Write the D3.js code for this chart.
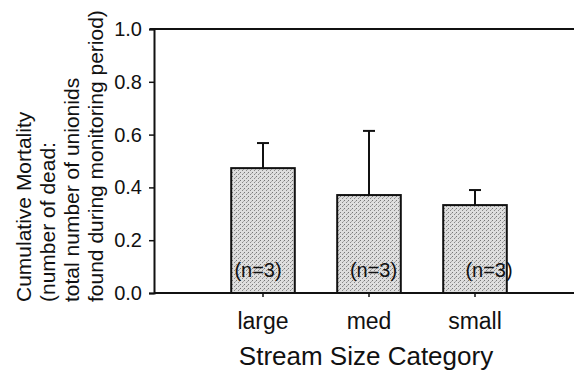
<!DOCTYPE html>
<html>
<head>
<meta charset="utf-8">
<script src="https://cdn.jsdelivr.net/npm/d3@7"></script>
<style>
  body { margin: 0; background: #fff; }
  text { font-family: "Liberation Sans", Arial, sans-serif; fill: #111; }
</style>
</head>
<body>
<script>
// data
var categories = ["large", "med", "small"];
var means = [0.473, 0.371, 0.333];
var upperErr = [0.568, 0.614, 0.39];
var nLabels = ["(n=3)", "(n=3)", "(n=3)"];
var yTicks = [0.0, 0.2, 0.4, 0.6, 0.8, 1.0];

var width = 574, height = 375;
var margin = { left: 154, top: 29, bottom: 82 };

var svg = d3.select("body").append("svg")
    .attr("width", width)
    .attr("height", height);

// stipple fill for bars
var defs = svg.append("defs");
var pat = defs.append("pattern")
    .attr("id", "stip")
    .attr("width", 4).attr("height", 4)
    .attr("patternUnits", "userSpaceOnUse");
pat.append("rect").attr("width", 4).attr("height", 4).attr("fill", "#dedede");
pat.append("rect").attr("x", 0).attr("y", 0).attr("width", 1).attr("height", 1).attr("fill", "#777");
pat.append("rect").attr("x", 2).attr("y", 2).attr("width", 1).attr("height", 1).attr("fill", "#888");
pat.append("rect").attr("x", 3).attr("y", 1).attr("width", 1).attr("height", 1).attr("fill", "#aaa");

var yScale = d3.scaleLinear()
    .domain([0, 1])
    .range([height - margin.bottom, margin.top]);

var xScale = d3.scaleBand()
    .domain(categories)
    .range([210, 528])
    .paddingInner(0.4)
    .paddingOuter(0.2);

// the (n=3) labels sit a little off-centre in the original
var nScale = d3.scalePoint()
    .domain(categories)
    .range([258, 489]);

var y0 = yScale(0);

// top frame line at 1.0
svg.append("line")
    .attr("x1", margin.left - 4).attr("x2", width)
    .attr("y1", yScale(1)).attr("y2", yScale(1))
    .style("stroke", "#111").style("stroke-width", 2);

// bars
svg.selectAll(".bar")
    .data(means)
    .enter().append("rect")
    .attr("class", "bar")
    .attr("x", function(d, i) { return xScale(categories[i]); })
    .attr("y", function(d) { return yScale(d); })
    .attr("width", xScale.bandwidth())
    .attr("height", function(d) { return y0 - yScale(d); })
    .style("fill", "url(#stip)")
    .style("stroke", "#111")
    .style("stroke-width", 2);

// error bars (upper only)
svg.selectAll(".err")
    .data(upperErr)
    .enter().append("line")
    .attr("class", "err")
    .attr("x1", function(d, i) { return xScale(categories[i]) + xScale.bandwidth() / 2; })
    .attr("x2", function(d, i) { return xScale(categories[i]) + xScale.bandwidth() / 2; })
    .attr("y1", function(d, i) { return yScale(means[i]); })
    .attr("y2", function(d) { return yScale(d); })
    .style("stroke", "#111").style("stroke-width", 2);

svg.selectAll(".cap")
    .data(upperErr)
    .enter().append("line")
    .attr("class", "cap")
    .attr("x1", function(d, i) { return xScale(categories[i]) + xScale.bandwidth() / 2 - 6; })
    .attr("x2", function(d, i) { return xScale(categories[i]) + xScale.bandwidth() / 2 + 6; })
    .attr("y1", function(d) { return yScale(d); })
    .attr("y2", function(d) { return yScale(d); })
    .style("stroke", "#111").style("stroke-width", 2);

// n labels
svg.selectAll(".nlab")
    .data(nLabels)
    .enter().append("text")
    .attr("class", "nlab")
    .attr("x", function(d, i) { return nScale(categories[i]); })
    .attr("y", y0 - 16)
    .attr("text-anchor", "middle")
    .style("font-size", "20px")
    .text(function(d) { return d; });

// y axis
var yAxis = d3.axisLeft(yScale)
    .tickValues(yTicks)
    .tickFormat(d3.format(".1f"))
    .tickSize(5)
    .tickPadding(7);

var gy = svg.append("g")
    .attr("transform", "translate(" + margin.left + ",0)")
    .call(yAxis);
gy.select(".domain").style("stroke", "#111").style("stroke-width", 2);
gy.selectAll(".tick line").style("stroke", "#111").style("stroke-width", 1.5);
gy.selectAll(".tick text")
    .style("font-size", "20px")
    .style("font-family", "'Liberation Sans', Arial, sans-serif")
    .attr("fill", "#222");

// x axis
var xAxis = d3.axisBottom(xScale)
    .tickSize(4)
    .tickSizeOuter(0)
    .tickPadding(16);

var gx = svg.append("g")
    .attr("transform", "translate(0," + y0 + ")")
    .call(xAxis);
gx.select(".domain").attr("d", "M" + margin.left + ",0H" + width)
    .style("stroke", "#111").style("stroke-width", 2);
gx.selectAll(".tick line").style("stroke", "#111").style("stroke-width", 1.5);
gx.selectAll(".tick text")
    .style("font-size", "23px")
    .style("font-family", "'Liberation Sans', Arial, sans-serif")
    .attr("fill", "#222");

// axis titles
svg.append("text")
    .attr("x", 366)
    .attr("y", 365)
    .attr("text-anchor", "middle")
    .style("font-size", "26px")
    .text("Stream Size Category");

var yTitle = ["Cumulative Mortality", "(number of dead:", "total number of unionids", "found during monitoring period)"];
svg.selectAll(".ytitle")
    .data(yTitle)
    .enter().append("text")
    .attr("class", "ytitle")
    .attr("transform", function(d, i) {
        return "translate(" + (31 + i * 24) + ",302) rotate(-90)";
    })
    .style("font-size", "21px")
    .text(function(d) { return d; });
</script>
</body>
</html>
